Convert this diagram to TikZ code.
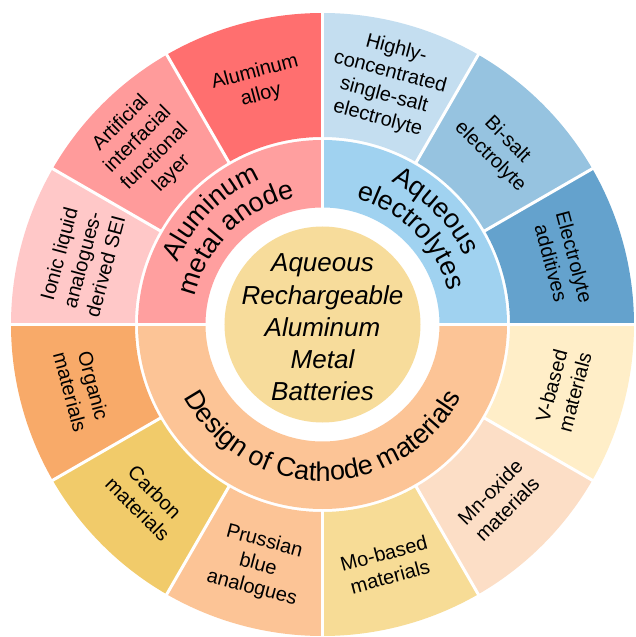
\documentclass[tikz,border=0pt]{standalone}
\usepackage{fontspec}
\setmainfont{Liberation Sans}
\usetikzlibrary{decorations.text}
\definecolor{alloyc}{HTML}{FF6F6F}
\definecolor{artc}{HTML}{FF9B9B}
\definecolor{ionicc}{HTML}{FFC8C8}
\definecolor{highc}{HTML}{C4DEF0}
\definecolor{bisaltc}{HTML}{96C3E0}
\definecolor{addc}{HTML}{64A2CD}
\definecolor{orgc}{HTML}{F8AA69}
\definecolor{carbc}{HTML}{F1CB6A}
\definecolor{prusc}{HTML}{FCC496}
\definecolor{moc}{HTML}{F7DC96}
\definecolor{mnc}{HTML}{FCDEC6}
\definecolor{vc}{HTML}{FFEEC8}
\definecolor{anodec}{HTML}{FF9F9F}
\definecolor{electc}{HTML}{A0D2F0}
\definecolor{cathc}{HTML}{FCC496}
\definecolor{corec}{HTML}{F7DC9B}
\newcommand\outfnt{\fontsize{20pt}{24pt}\selectfont}
\newcommand\midfnt{\fontsize{27pt}{30pt}\selectfont}
\newcommand\corefnt{\fontsize{26pt}{32.3pt}\selectfont\itshape}
\begin{document}
\begin{tikzpicture}[
  lbl/.style={align=center, font=\outfnt, text=black, inner sep=0pt},
  sepline/.style={white, line width=3pt},
  arctext/.style={decorate, decoration={text along path, text align=center, text={|\midfnt|#1}}}
]
\fill[white] (-322.5pt,-312.5pt) rectangle (312.5pt,324.5pt);
\useasboundingbox (-322.5pt,-312.5pt) rectangle (312.5pt,324.5pt);
% outer ring sectors
\foreach \a/\c in {90/alloyc,120/artc,150/ionicc,60/highc,30/bisaltc,0/addc,180/orgc,210/carbc,240/prusc,270/moc,300/mnc,330/vc}{
  \fill[\c] (\a:187.5pt) arc[start angle=\a, delta angle=30, radius=187.5pt]
    -- ({\a+30}:311.5pt) arc[start angle=\a+30, delta angle=-30, radius=311.5pt] -- cycle;
}
% middle ring sectors
\fill[anodec] (90:117pt) arc[start angle=90, end angle=180, radius=117pt]
  -- (180:184.5pt) arc[start angle=180, end angle=90, radius=184.5pt] -- cycle;
\fill[electc] (0:117pt) arc[start angle=0, end angle=90, radius=117pt]
  -- (90:184.5pt) arc[start angle=90, end angle=0, radius=184.5pt] -- cycle;
\fill[cathc] (180:117pt) arc[start angle=180, end angle=360, radius=117pt]
  -- (360:184.5pt) arc[start angle=360, end angle=180, radius=184.5pt] -- cycle;
% separators
\foreach \a in {0,30,...,330}{
  \draw[sepline] (\a:186pt) -- (\a:313pt);
}
\foreach \a in {0,90,180}{
  \draw[sepline] (\a:115pt) -- (\a:186pt);
}
% core
\fill[corec] (0,0) circle[radius=98pt];
\node[align=center, font=\corefnt, inner sep=0pt] (core) at (0,-3pt) {Aqueous\\Rechargeable\\Aluminum\\Metal\\Batteries};
% middle ring curved labels
\path[arctext={Aluminum}] (180:158pt) arc[start angle=180, end angle=90, radius=158pt];
\path[arctext={metal anode}] (180:130pt) arc[start angle=180, end angle=90, radius=130pt];
\path[arctext={Aqueous}] (90:158pt) arc[start angle=90, end angle=0, radius=158pt];
\path[arctext={electrolytes}] (90:130pt) arc[start angle=90, end angle=0, radius=130pt];
\path[arctext={Design of Cathode materials}] (180:156.5pt) arc[start angle=180, end angle=360, radius=156.5pt];
% outer ring labels
\node[lbl, rotate=15] (alloy) at (105:249pt) {Aluminum\\alloy};
\node[lbl, rotate=45] (artificial) at (135:249pt) {Artificial\\interfacial\\functional\\layer};
\node[lbl, rotate=75] (ionic) at (165:249pt) {Ionic liquid\\analogues-\\derived SEI};
\node[lbl, rotate=-15] (highly) at (75:249pt) {Highly-\\concentrated\\single-salt\\electrolyte};
\node[lbl, rotate=-45] (bisalt) at (45:249pt) {Bi-salt\\electrolyte};
\node[lbl, rotate=-75] (additives) at (15:249pt) {Electrolyte\\additives};
\node[lbl, rotate=-75] (organic) at (195:249pt) {Organic\\materials};
\node[lbl, rotate=-45] (carbon) at (225:249pt) {Carbon\\materials};
\node[lbl, rotate=-15] (prussian) at (255:249pt) {Prussian\\blue\\analogues};
\node[lbl, rotate=15] (mobased) at (285:249pt) {Mo-based\\materials};
\node[lbl, rotate=45] (mnoxide) at (315:249pt) {Mn-oxide\\materials};
\node[lbl, rotate=75] (vbased) at (345:249pt) {V-based\\materials};
\end{tikzpicture}
\end{document}
